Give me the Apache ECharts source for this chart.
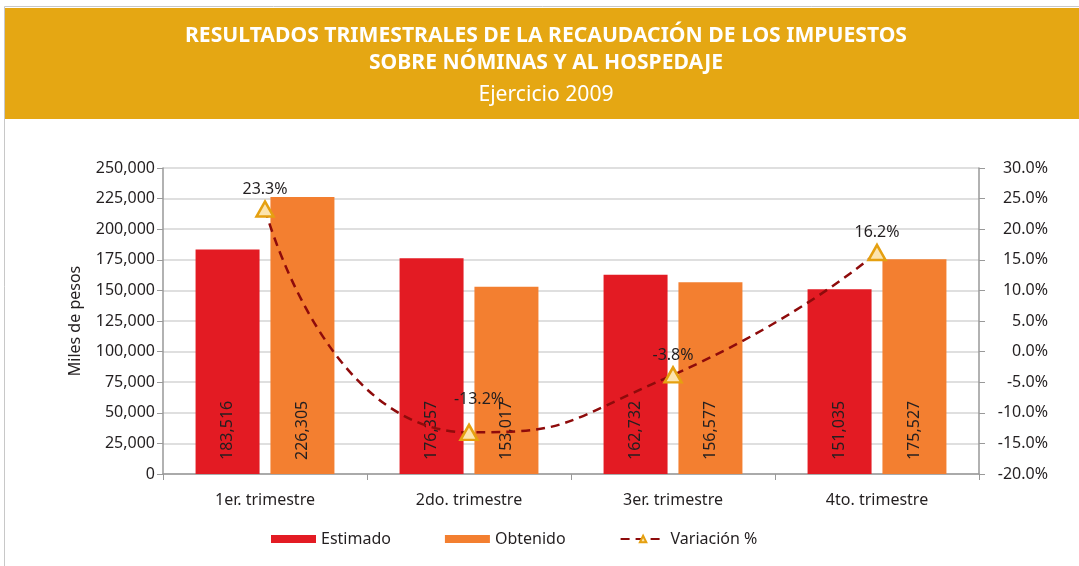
<!DOCTYPE html>
<html>
<head>
<meta charset="utf-8">
<script src="https://cdn.jsdelivr.net/npm/echarts@6/dist/echarts.min.js"></script>
<style>
  html, body { margin: 0; padding: 0; background: #fff; }
  #chart { width: 1079px; height: 566px; }
</style>
</head>
<body>
<div id="chart"></div>
<script>
const categories = ["1er. trimestre", "2do. trimestre", "3er. trimestre", "4to. trimestre"];
const estimado = [183516, 176357, 162732, 151035];
const obtenido = [226305, 153017, 156577, 175527];
const variacion = [23.3, -13.2, -3.8, 16.2];
const titleLines = [
  "RESULTADOS TRIMESTRALES DE LA RECAUDACIÓN DE LOS IMPUESTOS",
  "SOBRE NÓMINAS Y AL HOSPEDAJE",
  "Ejercicio 2009",
];

const FONT = "Noto Sans";
const TEXT = "#231f20";

const chart = echarts.init(document.getElementById("chart"));

const fmtMiles = (v) => v.toLocaleString("en-US");

// title lines are condensed in the original, squeeze Noto Sans a little
const titleText = (text, y, weight) => ({
  type: "text",
  x: 546,
  y: y,
  scaleX: 0.96,
  z: 2,
  style: {
    text: text,
    fill: "#fff",
    font: weight + " 22px 'Noto Sans'",
    align: "center",
    verticalAlign: "middle",
  },
});

const options = {
  animation: false,
  textStyle: { fontFamily: FONT, color: TEXT },
  graphic: [
    {
      type: "rect",
      shape: { x: 4.5, y: 6.5, width: 1100, height: 600 },
      style: { fill: "none", stroke: "#c8c8c8", lineWidth: 1 },
      z: 0,
    },
    {
      type: "rect",
      shape: { x: 5, y: 8, width: 1074, height: 111 },
      style: { fill: "#E5A713" },
      z: 1,
    },
    titleText(titleLines[0], 36, "bold"),
    titleText(titleLines[1], 63, "bold"),
    titleText(titleLines[2], 95, "normal"),
  ],
  legend: {
    bottom: 14,
    left: 266,
    itemGap: 54,
    itemWidth: 45,
    itemHeight: 8,
    textStyle: { fontSize: 16, color: TEXT, fontFamily: FONT },
    data: [
      { name: "Estimado", icon: "rect" },
      { name: "Obtenido", icon: "rect" },
      { name: "Variación %" },
    ],
  },
  grid: {
    left: 163,
    right: 100,
    top: 168,
    bottom: 92,
  },
  xAxis: {
    type: "category",
    data: categories,
    axisLine: { lineStyle: { color: "#999", width: 1.5 } },
    axisTick: { show: true, length: 6, lineStyle: { color: "#999" } },
    axisLabel: { fontSize: 16, color: TEXT, margin: 18 },
  },
  yAxis: [
    {
      type: "value",
      min: 0,
      max: 250000,
      interval: 25000,
      name: "Miles de pesos",
      nameLocation: "middle",
      nameGap: 80,
      nameTextStyle: { fontSize: 16, color: TEXT },
      axisLine: { show: true, lineStyle: { color: "#999", width: 1.5 } },
      axisTick: { show: true, length: 6, lineStyle: { color: "#999" } },
      axisLabel: { fontSize: 16, color: TEXT, margin: 8, formatter: fmtMiles },
      splitLine: { lineStyle: { color: "#d4d4d4", width: 1.5 } },
    },
    {
      type: "value",
      min: -20,
      max: 30,
      interval: 5,
      position: "right",
      axisLine: { show: true, lineStyle: { color: "#999", width: 1.5 } },
      axisTick: { show: true, length: 6, lineStyle: { color: "#999" } },
      axisLabel: {
        fontSize: 16,
        color: TEXT,
        margin: 69,
        align: "right",
        formatter: (v) => v.toFixed(1) + "%",
      },
      splitLine: { show: false },
    },
  ],
  series: [
    {
      name: "Estimado",
      type: "bar",
      data: estimado,
      barWidth: 64,
      barGap: "17%",
      itemStyle: { color: "#E31B23" },
      label: {
        show: true,
        position: "insideBottom",
        rotate: 90,
        align: "left",
        verticalAlign: "middle",
        distance: 14,
        fontSize: 16,
        color: TEXT,
        formatter: (p) => fmtMiles(p.value),
      },
    },
    {
      name: "Obtenido",
      type: "bar",
      data: obtenido,
      barWidth: 64,
      itemStyle: { color: "#F37F30" },
      label: {
        show: true,
        position: "insideBottom",
        rotate: 90,
        align: "left",
        verticalAlign: "middle",
        distance: 14,
        fontSize: 16,
        color: TEXT,
        formatter: (p) => fmtMiles(p.value),
      },
    },
    {
      name: "Variación %",
      type: "line",
      yAxisIndex: 1,
      smooth: 0.6,
      data: variacion.map((v, i) =>
        i === 1 ? { value: v, label: { distance: 16, offset: [10, 0] } } : v
      ),
      symbol: "triangle",
      symbolSize: [17, 15],
      lineStyle: { color: "#8E0B0B", width: 2.5, type: [9, 6] },
      itemStyle: { color: "#FCE4AE", borderColor: "#E5A010", borderWidth: 2.5 },
      label: {
        show: true,
        position: "top",
        distance: 3,
        fontSize: 16,
        color: TEXT,
        formatter: (p) => p.value.toFixed(1) + "%",
      },
      z: 5,
    },
  ],
};

chart.setOption(options);
</script>
</body>
</html>
